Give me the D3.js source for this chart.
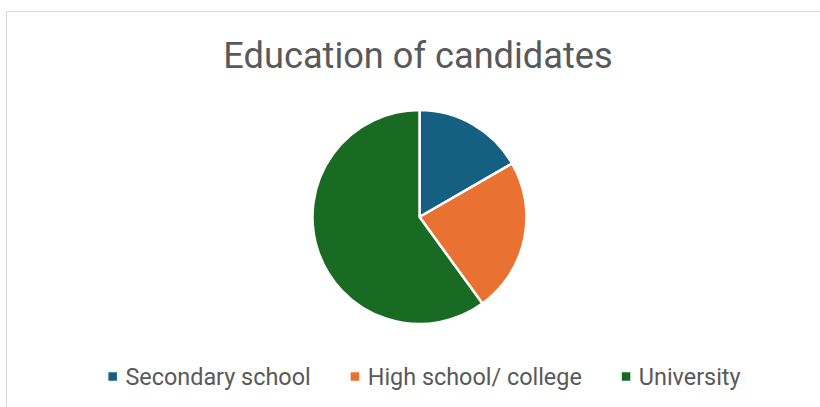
<!DOCTYPE html>
<html>
<head>
<meta charset="utf-8">
<script src="https://cdn.jsdelivr.net/npm/d3@7"></script>
<style>
  html, body { margin: 0; padding: 0; background: #fff; }
  svg { display: block; }
</style>
</head>
<body>
<svg id="chart" width="820" height="407"></svg>
<script>
const categories = ["Secondary school", "High school/ college", "University"];
const values = [5, 7, 18];
const colors = ["#156082", "#E97132", "#196B24"];
const title = "Education of candidates";

const svg = d3.select("#chart");
const W = 820, H = 407;
const fontFamily = "Roboto, 'Noto Sans', sans-serif";

// chart area border
svg.append("rect")
  .attr("x", 6.5).attr("y", 11.5)
  .attr("width", W + 10).attr("height", H + 10)
  .attr("fill", "#fff")
  .attr("stroke", "#d9d9d9").attr("stroke-width", 1);

// title
svg.append("text")
  .attr("x", 418).attr("y", 68)
  .attr("text-anchor", "middle")
  .attr("font-family", fontFamily)
  .attr("font-size", 36.2)
  .attr("fill", "#595959")
  .text(title);

// pie
const cx = 419.5, cy = 217, r = 107;
const pie = d3.pie().sort(null).value(d => d)(values);
const arc = d3.arc().innerRadius(0).outerRadius(r);
const g = svg.append("g").attr("transform", `translate(${cx},${cy})`);
g.selectAll("path")
  .data(pie)
  .join("path")
  .attr("d", arc)
  .attr("fill", (d, i) => colors[i])
  .attr("stroke", "#fff")
  .attr("stroke-width", 2.5)
  .attr("stroke-linejoin", "round");

// legend
const legend = svg.append("g");
const items = legend.selectAll("g.item")
  .data(categories)
  .join("g").attr("class", "item");
const markerSize = 8.5, markerGap = 8.5, itemGap = 40;
items.append("rect")
  .attr("width", markerSize).attr("height", markerSize)
  .attr("y", -markerSize / 2 - 0.5)
  .attr("fill", (d, i) => colors[i]);
items.append("text")
  .attr("x", markerSize + markerGap)
  .attr("y", 0)
  .attr("dy", "0.35em")
  .attr("font-family", fontFamily)
  .attr("font-size", 23.4)
  .attr("fill", "#595959")
  .text(d => d);
let widths = [];
items.each(function () {
  widths.push(markerSize + markerGap + d3.select(this).select("text").node().getComputedTextLength());
});
const total = d3.sum(widths) + itemGap * (widths.length - 1);
let x = 424.5 - total / 2;
items.each(function (d, i) {
  d3.select(this).attr("transform", `translate(${x},377)`);
  x += widths[i] + itemGap;
});
</script>
</body>
</html>
